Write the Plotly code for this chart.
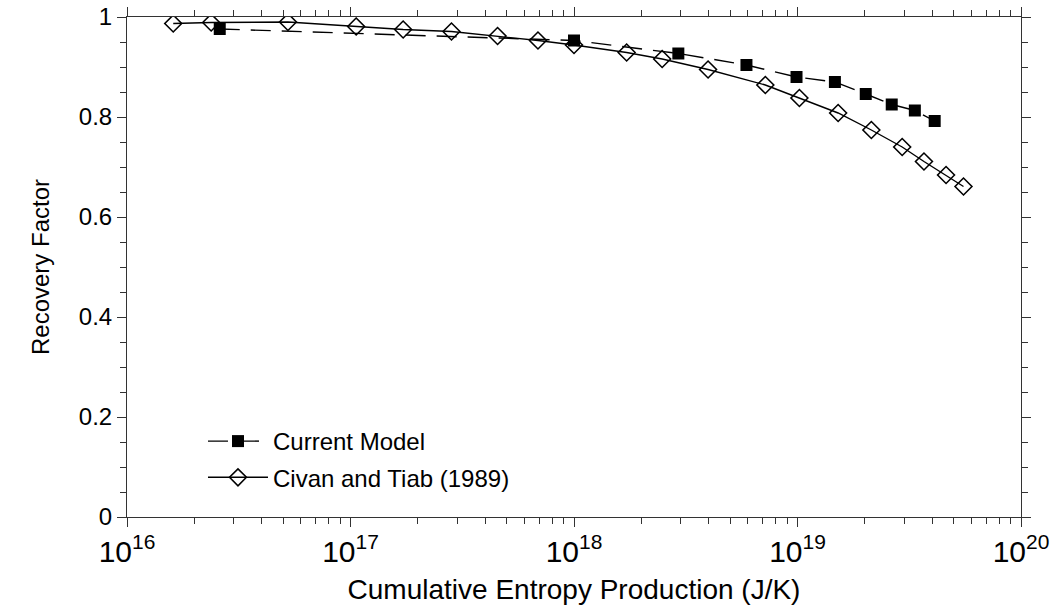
import plotly.graph_objects as go

# Current Model (filled squares, dashed line)
current_x = [2.6e16, 1.0e18, 2.93e18, 5.91e18, 9.9e18, 1.47e19, 2.02e19, 2.64e19, 3.35e19, 4.11e19]
current_y = [0.976, 0.953, 0.927, 0.904, 0.880, 0.870, 0.846, 0.825, 0.813, 0.792]

# Civan and Tiab (1989) (open diamonds, solid line)
civan_x = [1.61e16, 2.38e16, 5.25e16, 1.06e17, 1.72e17, 2.83e17, 4.55e17, 6.9e17, 1.0e18,
           1.72e18, 2.48e18, 3.98e18, 7.18e18, 1.02e19, 1.52e19, 2.14e19, 2.94e19, 3.68e19,
           4.62e19, 5.53e19]
civan_y = [0.987, 0.989, 0.990, 0.981, 0.975, 0.971, 0.962, 0.953, 0.944,
           0.929, 0.916, 0.895, 0.864, 0.838, 0.808, 0.774, 0.740, 0.711,
           0.684, 0.661]

x_title = "Cumulative Entropy Production (J/K)"
y_title = "Recovery Factor"

FONT = "Liberation Sans, Arial, Helvetica, sans-serif"

fig = go.Figure()
fig.add_trace(go.Scatter(
    x=current_x, y=current_y, name="Current Model", mode="lines+markers",
    legendgroup="a",
    line=dict(color="black", width=1.4, dash="20px,11px"),
    marker=dict(symbol="square", size=12, color="black"),
))
fig.add_trace(go.Scatter(
    x=civan_x, y=civan_y, name="Civan and Tiab (1989)", mode="lines+markers",
    legendgroup="b",
    line=dict(color="black", width=1.4),
    marker=dict(symbol="diamond-open", size=13, color="black", line=dict(width=1.6)),
))

axis_common = dict(
    showline=True, linecolor="#333", linewidth=1, mirror="allticks",
    ticks="outside", tickcolor="#333", ticklen=9, tickwidth=1,
    showgrid=False, zeroline=False, automargin=False,
    tickfont=dict(family=FONT, size=24, color="black"),
)

fig.update_layout(
    width=1057, height=612,
    margin=dict(l=127, r=36, t=17, b=95),
    paper_bgcolor="white", plot_bgcolor="white",
    font=dict(family=FONT, color="black"),
    showlegend=True,
    legend=dict(
        x=0.085, y=0.196, xanchor="left", yanchor="top",
        bgcolor="rgba(0,0,0,0)", font=dict(family=FONT, size=24, color="black"),
        traceorder="grouped", tracegroupgap=2, itemwidth=60,
    ),
    xaxis=dict(
        type="log", range=[16, 20], dtick=1, exponentformat="power",
        title=dict(text=x_title, font=dict(family=FONT, size=28, color="black"), standoff=12),
        minor=dict(ticks="outside", ticklen=6, tickcolor="#333", showgrid=False),
        **axis_common,
    ),
    yaxis=dict(
        range=[0, 1], dtick=0.2, tick0=0,
        title=dict(text=y_title, font=dict(family=FONT, size=24, color="black"), standoff=22),
        minor=dict(ticks="outside", dtick=0.05, ticklen=6, tickcolor="#333", showgrid=False),
        **axis_common,
    ),
)

fig.write_html("out.html")
